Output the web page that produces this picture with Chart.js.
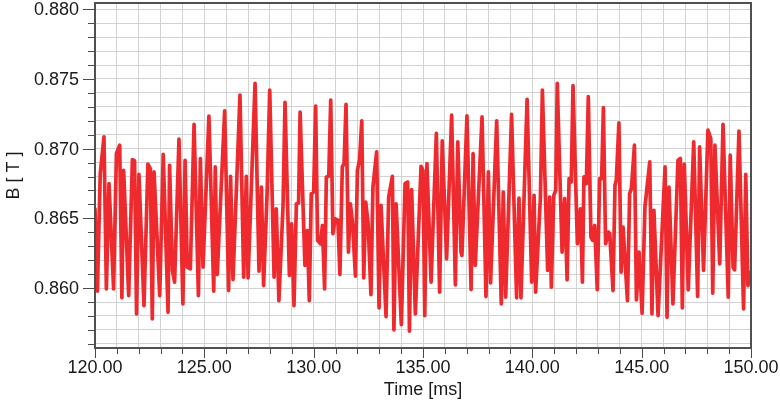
<!DOCTYPE html>
<html>
<head>
<meta charset="utf-8">
<script src="https://cdn.jsdelivr.net/npm/chart.js@4/dist/chart.umd.min.js"></script>
<style>
  html, body { margin: 0; padding: 0; background: #fff; }
</style>
</head>
<body>
<canvas id="fieldChart" width="780" height="405"></canvas>
<script>
// B field trace (time in ms, field in T)
const timeMs = [
  120.00, 120.11, 120.24, 120.41, 120.52, 120.64, 120.85, 120.98, 121.13, 121.23,
  121.31, 121.54, 121.71, 121.81, 121.90, 122.01, 122.24, 122.42, 122.53, 122.62,
  122.70, 122.96, 123.12, 123.34, 123.41, 123.54, 123.64, 123.84, 124.02, 124.12,
  124.22, 124.36, 124.53, 124.73, 124.82, 124.94, 125.21, 125.43, 125.50, 125.59,
  125.93, 126.11, 126.20, 126.31, 126.63, 126.80, 126.92, 127.00, 127.32, 127.50,
  127.61, 127.71, 127.87, 127.99, 128.19, 128.29, 128.41, 128.60, 128.69, 128.89,
  128.99, 129.10, 129.21, 129.31, 129.38, 129.60, 129.71, 129.80, 129.89, 130.00,
  130.09, 130.18, 130.31, 130.40, 130.50, 130.58, 130.69, 130.78, 130.88, 130.98,
  131.11, 131.20, 131.31, 131.39, 131.48, 131.59, 131.68, 131.78, 131.91, 132.00,
  132.10, 132.20, 132.29, 132.38, 132.49, 132.62, 132.71, 132.88, 132.99, 133.08,
  133.31, 133.43, 133.60, 133.67, 133.77, 134.01, 134.18, 134.30, 134.38, 134.48,
  134.65, 134.91, 135.00, 135.08, 135.18, 135.37, 135.61, 135.76, 135.88, 136.08,
  136.31, 136.48, 136.59, 136.74, 136.78, 137.01, 137.20, 137.29, 137.39, 137.70,
  137.88, 137.99, 138.09, 138.37, 138.58, 138.67, 138.78, 139.05, 139.28, 139.39,
  139.48, 139.76, 139.97, 140.08, 140.15, 140.37, 140.46, 140.70, 140.79, 140.87,
  140.98, 141.07, 141.14, 141.36, 141.48, 141.59, 141.68, 141.78, 141.86, 142.06,
  142.20, 142.29, 142.36, 142.47, 142.56, 142.68, 142.76, 142.85, 142.97, 143.08,
  143.17, 143.25, 143.35, 143.48, 143.54, 143.69, 143.78, 143.84, 143.96, 144.06,
  144.15, 144.35, 144.45, 144.53, 144.67, 144.76, 144.88, 145.02, 145.15, 145.37,
  145.47, 145.56, 145.75, 146.07, 146.16, 146.25, 146.43, 146.66, 146.77, 146.86,
  146.95, 147.13, 147.38, 147.56, 147.65, 147.83, 148.03, 148.16, 148.25, 148.35,
  148.57, 148.72, 148.96, 149.05, 149.18, 149.25, 149.45, 149.66, 149.76, 149.86,
  150.00
];
const fieldT = [
  0.86569, 0.85977, 0.86821, 0.87085, 0.85994, 0.86749, 0.85994, 0.86965, 0.87025, 0.85930,
  0.86845, 0.85946, 0.86922, 0.86912, 0.85814, 0.86816, 0.85874, 0.86889, 0.86857, 0.85778,
  0.86833, 0.85946, 0.86960, 0.85826, 0.86881, 0.86126, 0.86042, 0.87068, 0.85886, 0.86917,
  0.86150, 0.86138, 0.87174, 0.85946, 0.86929, 0.86150, 0.87234, 0.85977, 0.86869, 0.86097,
  0.87272, 0.85982, 0.86802, 0.86061, 0.87385, 0.86078, 0.86802, 0.86073, 0.87469, 0.86121,
  0.86725, 0.86018, 0.86677, 0.87421, 0.86078, 0.86569, 0.85910, 0.86593, 0.87332, 0.86090,
  0.86461, 0.85874, 0.86605, 0.86610, 0.87262, 0.86162, 0.86413, 0.85910, 0.86677, 0.86689,
  0.87306, 0.86342, 0.86318, 0.86449, 0.85994, 0.86797, 0.86802, 0.87349, 0.86390, 0.86497,
  0.86485, 0.86097, 0.86869, 0.86893, 0.87318, 0.86258, 0.86605, 0.86461, 0.86085, 0.86845,
  0.86922, 0.87200, 0.86073, 0.86617, 0.86461, 0.85953, 0.86725, 0.86977, 0.85857, 0.86593,
  0.85795, 0.86653, 0.86802, 0.85699, 0.86605, 0.85737, 0.86749, 0.86761, 0.85690, 0.86706,
  0.85814, 0.86874, 0.86845, 0.85802, 0.86893, 0.86042, 0.87109, 0.85970, 0.87056, 0.86210,
  0.87241, 0.86023, 0.87049, 0.86258, 0.86234, 0.87236, 0.85989, 0.86965, 0.86162, 0.87229,
  0.85939, 0.86833, 0.86037, 0.87200, 0.85886, 0.86689, 0.85934, 0.87246, 0.85930, 0.86646,
  0.85930, 0.87354, 0.86042, 0.86665, 0.85970, 0.86653, 0.87421, 0.86126, 0.86653, 0.86006,
  0.86665, 0.86701, 0.87469, 0.86258, 0.86641, 0.86059, 0.86785, 0.86761, 0.87452, 0.86318,
  0.86569, 0.86042, 0.86797, 0.86749, 0.87373, 0.86366, 0.86342, 0.86449, 0.85989, 0.86785,
  0.86785, 0.87294, 0.86318, 0.86402, 0.86390, 0.85982, 0.86737, 0.86773, 0.87186, 0.86114,
  0.86437, 0.85910, 0.86677, 0.86713, 0.87025, 0.85915, 0.86258, 0.85819, 0.86582, 0.86905,
  0.85814, 0.86557, 0.85802, 0.86869, 0.85790, 0.86725, 0.85886, 0.86917, 0.86929, 0.85857,
  0.86889, 0.85987, 0.87049, 0.85939, 0.87013, 0.86126, 0.87133, 0.87073, 0.85963, 0.87025,
  0.86174, 0.87174, 0.85934, 0.86953, 0.86150, 0.86131, 0.87126, 0.85850, 0.86816, 0.86018,
  0.86114
];

// labelled ticks
const xMajor = [120, 125, 130, 135, 140, 145, 150];
const yMajor = [0.860, 0.865, 0.870, 0.875, 0.880];

const X_MIN = 120, X_MAX = 150;
const Y_MIN = 0.8557, Y_MAX = 0.88045;

// minor grid: every 1 ms and every 0.001 T
const xGrid = [];
for (let v = X_MIN; v <= X_MAX; v++) xGrid.push(v);
const yGrid = [];
for (let m = 856; m <= 880; m++) yGrid.push(m / 1000);

const yMajorMilli = yMajor.map(v => Math.round(v * 1000));
const isMajorY = v => yMajorMilli.includes(Math.round(v * 1000));
const isMajorX = v => xMajor.includes(Math.round(v));

Chart.defaults.font.family = '"Liberation Sans", Arial, sans-serif';
Chart.defaults.color = '#1a1a1a';

// tick marks (long for labelled ticks, short for the rest) and the frame
const frameAndTicks = {
  id: 'frameAndTicks',
  afterDraw(chart) {
    const ctx = chart.ctx;
    const a = chart.chartArea;
    const xs = chart.scales.x, ys = chart.scales.y;
    ctx.save();
    ctx.strokeStyle = '#4a4a4a';
    ctx.lineWidth = 1;
    ctx.beginPath();
    xs.ticks.forEach(t => {
      const px = Math.round(xs.getPixelForValue(t.value)) + 0.5;
      const len = isMajorX(t.value) ? 10 : 6;
      ctx.moveTo(px, a.bottom);
      ctx.lineTo(px, a.bottom + len);
    });
    ys.ticks.forEach(t => {
      const py = Math.round(ys.getPixelForValue(t.value)) + 0.5;
      const len = isMajorY(t.value) ? 12 : 7;
      ctx.moveTo(a.left, py);
      ctx.lineTo(a.left - len, py);
    });
    ctx.stroke();
    ctx.lineWidth = 2;
    ctx.strokeStyle = '#505050';
    ctx.strokeRect(a.left, a.top, a.right - a.left, a.bottom - a.top);
    ctx.restore();
  }
};

const ctx = document.getElementById('fieldChart').getContext('2d');
new Chart(ctx, {
  type: 'line',
  data: {
    datasets: [{
      data: timeMs.map((t, i) => ({ x: t, y: fieldT[i] })),
      borderColor: '#ee2a2e',
      borderWidth: 3.7,
      pointRadius: 0,
      tension: 0,
      fill: false,
      borderJoinStyle: 'round',
      borderCapStyle: 'round'
    }]
  },
  options: {
    responsive: false,
    animation: false,
    layout: { padding: { left: 0, top: 3, right: 29, bottom: 0 } },
    plugins: {
      legend: { display: false },
      tooltip: { enabled: false }
    },
    scales: {
      x: {
        type: 'linear',
        min: X_MIN,
        max: X_MAX,
        afterBuildTicks: s => { s.ticks = xGrid.map(v => ({ value: v })); },
        afterFit: s => { s.height = 57; s.paddingLeft = 0; s.paddingRight = 0; },
        ticks: {
          autoSkip: false,
          maxRotation: 0,
          padding: 9,
          font: { size: 18 },
          callback: v => isMajorX(v) ? Number(v).toFixed(2) : ''
        },
        grid: { color: '#d2d2d2', lineWidth: 1, drawTicks: false },
        border: { display: false },
        title: {
          display: true,
          text: 'Time [ms]',
          font: { size: 18 },
          padding: { top: 0, bottom: 4 }
        }
      },
      y: {
        type: 'linear',
        min: Y_MIN,
        max: Y_MAX,
        afterBuildTicks: s => { s.ticks = yGrid.map(v => ({ value: v })); },
        afterFit: s => { s.width = 95; s.paddingTop = 0; s.paddingBottom = 0; },
        ticks: {
          autoSkip: false,
          padding: 16,
          labelOffset: 1,
          font: { size: 18 },
          callback: v => isMajorY(v) ? Number(v).toFixed(3) : ''
        },
        grid: { color: '#d2d2d2', lineWidth: 1, drawTicks: false },
        border: { display: false },
        title: {
          display: true,
          text: 'B [ T ]',
          font: { size: 18 },
          padding: { top: 3, bottom: 0 }
        }
      }
    }
  },
  plugins: [frameAndTicks]
});
</script>
</body>
</html>
